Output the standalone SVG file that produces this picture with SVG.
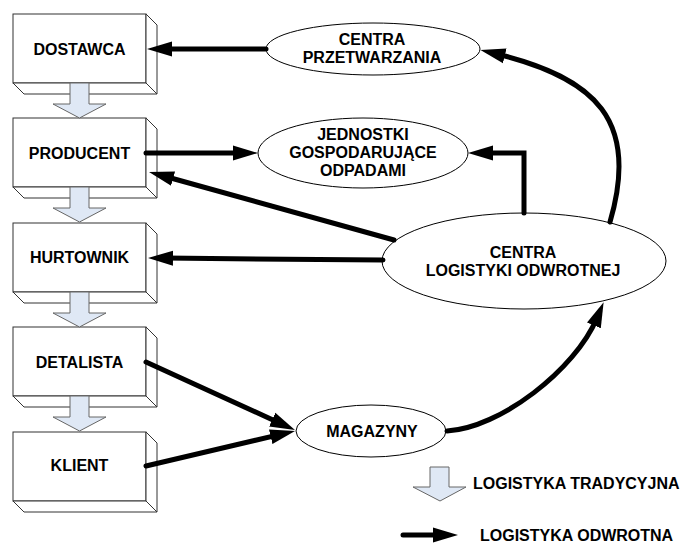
<svg xmlns="http://www.w3.org/2000/svg" width="682" height="545" viewBox="0 0 682 545">
<style>
.box{fill:#fff;stroke:#333;stroke-width:1}
.ell{fill:#fff;stroke:#000;stroke-width:1}
.flow{fill:#dfe8f5;stroke:#666;stroke-width:1}
.t{font-family:"Liberation Sans",Arial,sans-serif;font-weight:bold;font-size:16px;fill:#000;text-anchor:middle}
.tl{font-family:"Liberation Sans",Arial,sans-serif;font-weight:bold;font-size:16px;fill:#000}
.c{fill:none;stroke:#000;stroke-width:5;stroke-linecap:round}
</style>
<defs>
<marker id="ah" markerUnits="userSpaceOnUse" viewBox="0 0 25 16" markerWidth="25" markerHeight="16" refX="8" refY="8" orient="auto">
<path d="M0,0.5 L25,8 L0,15.5 Z" fill="#000"/>
</marker>
<g id="boxshape">
<rect class="box" x="13" y="0" width="133" height="69"/>
<polygon class="box" points="146,0 157,11 157,80 146,69"/>
<polygon class="box" points="13,69 24,80 157,80 146,69"/>
</g>
<path id="flowarrow" class="flow" d="M70,0 L89,0 L89,21 L106,21 L79.5,35 L53,21 L70,21 Z"/>
</defs>

<g id="dostawca">
<use href="#boxshape" y="14"/>
<text class="t" x="79.5" y="54.5">DOSTAWCA</text>
</g>
<g id="producent">
<use href="#boxshape" y="118"/>
<text class="t" x="79.5" y="159">PRODUCENT</text>
</g>
<g id="hurtownik">
<use href="#boxshape" y="223"/>
<text class="t" x="79.5" y="263">HURTOWNIK</text>
</g>
<g id="detalista">
<use href="#boxshape" y="327"/>
<text class="t" x="79.5" y="367.5">DETALISTA</text>
</g>
<g id="klient">
<use href="#boxshape" y="432"/>
<text class="t" x="79.5" y="471">KLIENT</text>
</g>

<g id="traditional-flow">
<use href="#flowarrow" y="83"/>
<use href="#flowarrow" y="187"/>
<use href="#flowarrow" y="292"/>
<use href="#flowarrow" y="396"/>
</g>

<g id="centra-przetwarzania">
<ellipse class="ell" cx="373" cy="49" rx="107" ry="26"/>
<text class="t" x="372" y="45">CENTRA</text>
<text class="t" x="372" y="63">PRZETWARZANIA</text>
</g>
<g id="jednostki">
<ellipse class="ell" cx="363" cy="153" rx="105" ry="35"/>
<text class="t" x="363" y="140">JEDNOSTKI</text>
<text class="t" x="363" y="158">GOSPODARUJĄCE</text>
<text class="t" x="363" y="176">ODPADAMI</text>
</g>
<g id="centra-logistyki">
<ellipse class="ell" cx="524" cy="261" rx="142" ry="48"/>
<text class="t" x="523" y="257.5">CENTRA</text>
<text class="t" x="523" y="275.5">LOGISTYKI ODWROTNEJ</text>
</g>
<g id="magazyny">
<ellipse class="ell" cx="371" cy="431" rx="75" ry="26"/>
<text class="t" x="372" y="436.5">MAGAZYNY</text>
</g>

<g id="connectors">
<path class="c" d="M266,49 L164,49" marker-end="url(#ah)"/>
<path class="c" d="M146,153 L241,153" marker-end="url(#ah)"/>
<path class="c" d="M394,240 L165.4,176.5" marker-end="url(#ah)"/>
<path class="c" d="M383,260 L165,258.1" marker-end="url(#ah)"/>
<path class="c" style="stroke-linejoin:miter" d="M524,213 L524,153 L485,153" marker-end="url(#ah)"/>
<path class="c" d="M610,222 C640,120 595,78 497,54" marker-end="url(#ah)"/>
<path class="c" d="M146,362 L279.5,422.9" marker-end="url(#ah)"/>
<path class="c" d="M146,466 L278.5,434.9" marker-end="url(#ah)"/>
<path class="c" d="M447,431 C500,428 575,370 597,318" marker-end="url(#ah)"/>
</g>

<g id="legend">
<path class="flow" d="M430,467 L449,467 L449,487 L466,487 L440,501 L413,487 L430,487 Z"/>
<text class="tl" x="473" y="488.5">LOGISTYKA TRADYCYJNA</text>
<path class="c" d="M403,535 L441,535" marker-end="url(#ah)"/>
<text class="tl" x="480" y="541">LOGISTYKA ODWROTNA</text>
</g>
</svg>
